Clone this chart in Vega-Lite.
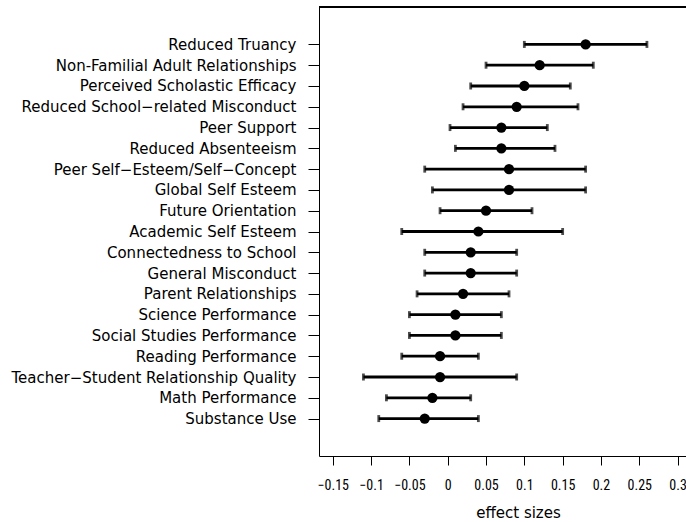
{
  "$schema": "https://vega.github.io/schema/vega-lite/v6.json",
  "width": 367,
  "height": 449,
  "autosize": {"type": "none"},
  "padding": {"left": 319, "top": 7, "right": 0, "bottom": 66},
  "background": "white",
  "data": {
    "values": [
      {"rank": 1, "outcome": "Reduced Truancy", "est": 0.18, "lo": 0.10, "hi": 0.26},
      {"rank": 2, "outcome": "Non-Familial Adult Relationships", "est": 0.12, "lo": 0.05, "hi": 0.19},
      {"rank": 3, "outcome": "Perceived Scholastic Efficacy", "est": 0.10, "lo": 0.03, "hi": 0.16},
      {"rank": 4, "outcome": "Reduced School−related Misconduct", "est": 0.09, "lo": 0.02, "hi": 0.17},
      {"rank": 5, "outcome": "Peer Support", "est": 0.07, "lo": 0.003, "hi": 0.13},
      {"rank": 6, "outcome": "Reduced Absenteeism", "est": 0.07, "lo": 0.01, "hi": 0.14},
      {"rank": 7, "outcome": "Peer Self−Esteem/Self−Concept", "est": 0.08, "lo": -0.03, "hi": 0.18},
      {"rank": 8, "outcome": "Global Self Esteem", "est": 0.08, "lo": -0.02, "hi": 0.18},
      {"rank": 9, "outcome": "Future Orientation", "est": 0.05, "lo": -0.01, "hi": 0.11},
      {"rank": 10, "outcome": "Academic Self Esteem", "est": 0.04, "lo": -0.06, "hi": 0.15},
      {"rank": 11, "outcome": "Connectedness to School", "est": 0.03, "lo": -0.03, "hi": 0.09},
      {"rank": 12, "outcome": "General Misconduct", "est": 0.03, "lo": -0.03, "hi": 0.09},
      {"rank": 13, "outcome": "Parent Relationships", "est": 0.02, "lo": -0.04, "hi": 0.08},
      {"rank": 14, "outcome": "Science Performance", "est": 0.01, "lo": -0.05, "hi": 0.07},
      {"rank": 15, "outcome": "Social Studies Performance", "est": 0.01, "lo": -0.05, "hi": 0.07},
      {"rank": 16, "outcome": "Reading Performance", "est": -0.01, "lo": -0.06, "hi": 0.04},
      {"rank": 17, "outcome": "Teacher−Student Relationship Quality", "est": -0.01, "lo": -0.11, "hi": 0.09},
      {"rank": 18, "outcome": "Math Performance", "est": -0.02, "lo": -0.08, "hi": 0.03},
      {"rank": 19, "outcome": "Substance Use", "est": -0.03, "lo": -0.09, "hi": 0.04}
    ]
  },
  "encoding": {
    "y": {
      "field": "rank",
      "type": "quantitative",
      "title": null,
      "scale": {"domain": [-0.8, 20.8], "reverse": true, "nice": false, "zero": false},
      "axis": {
        "values": [1, 2, 3, 4, 5, 6, 7, 8, 9, 10, 11, 12, 13, 14, 15, 16, 17, 18, 19],
        "labelExpr": "['Reduced Truancy', 'Non-Familial Adult Relationships', 'Perceived Scholastic Efficacy', 'Reduced School−related Misconduct', 'Peer Support', 'Reduced Absenteeism', 'Peer Self−Esteem/Self−Concept', 'Global Self Esteem', 'Future Orientation', 'Academic Self Esteem', 'Connectedness to School', 'General Misconduct', 'Parent Relationships', 'Science Performance', 'Social Studies Performance', 'Reading Performance', 'Teacher−Student Relationship Quality', 'Math Performance', 'Substance Use'][datum.value - 1]",
        "tickSize": 11,
        "labelPadding": 12,
        "labelFontSize": 15,
        "labelLimit": 400,
        "labelFlush": false
      }
    }
  },
  "layer": [
    {
      "mark": {
        "type": "errorbar",
        "color": "black",
        "thickness": 2.8,
        "ticks": {"size": 7, "thickness": 2.8, "color": "black"}
      },
      "encoding": {
        "x": {
          "field": "lo",
          "type": "quantitative",
          "title": "effect sizes",
          "scale": {"domain": [-0.168, 0.311], "nice": false, "zero": false},
          "axis": {
            "values": [-0.15, -0.1, -0.05, 0, 0.05, 0.1, 0.15, 0.2, 0.25, 0.3],
            "format": "~g",
            "tickSize": 9,
            "labelPadding": 13,
            "labelFontSize": 14,
            "labelFont": "Liberation Sans Narrow, Roboto Condensed, Roboto",
            "labelFlush": false,
            "titleFontSize": 15,
            "titlePadding": 13,
            "titleX": 199
          }
        },
        "x2": {"field": "hi"}
      }
    },
    {
      "mark": {"type": "point", "filled": true, "color": "black", "opacity": 1, "size": 105},
      "encoding": {
        "x": {"field": "est", "type": "quantitative"}
      }
    },
    {
      "mark": {"type": "rule", "color": "black", "strokeWidth": 1},
      "encoding": {
        "x": {"datum": -0.168},
        "x2": {"datum": 0.311},
        "y": {"datum": -0.8}
      }
    }
  ],
  "config": {
    "view": {"stroke": null},
    "font": "DejaVu Sans",
    "axis": {
      "grid": false,
      "domainColor": "black",
      "domainWidth": 1,
      "tickColor": "black",
      "tickWidth": 1,
      "labelColor": "black",
      "titleColor": "black",
      "titleFontWeight": "normal",
      "titleFont": "DejaVu Sans"
    }
  }
}
